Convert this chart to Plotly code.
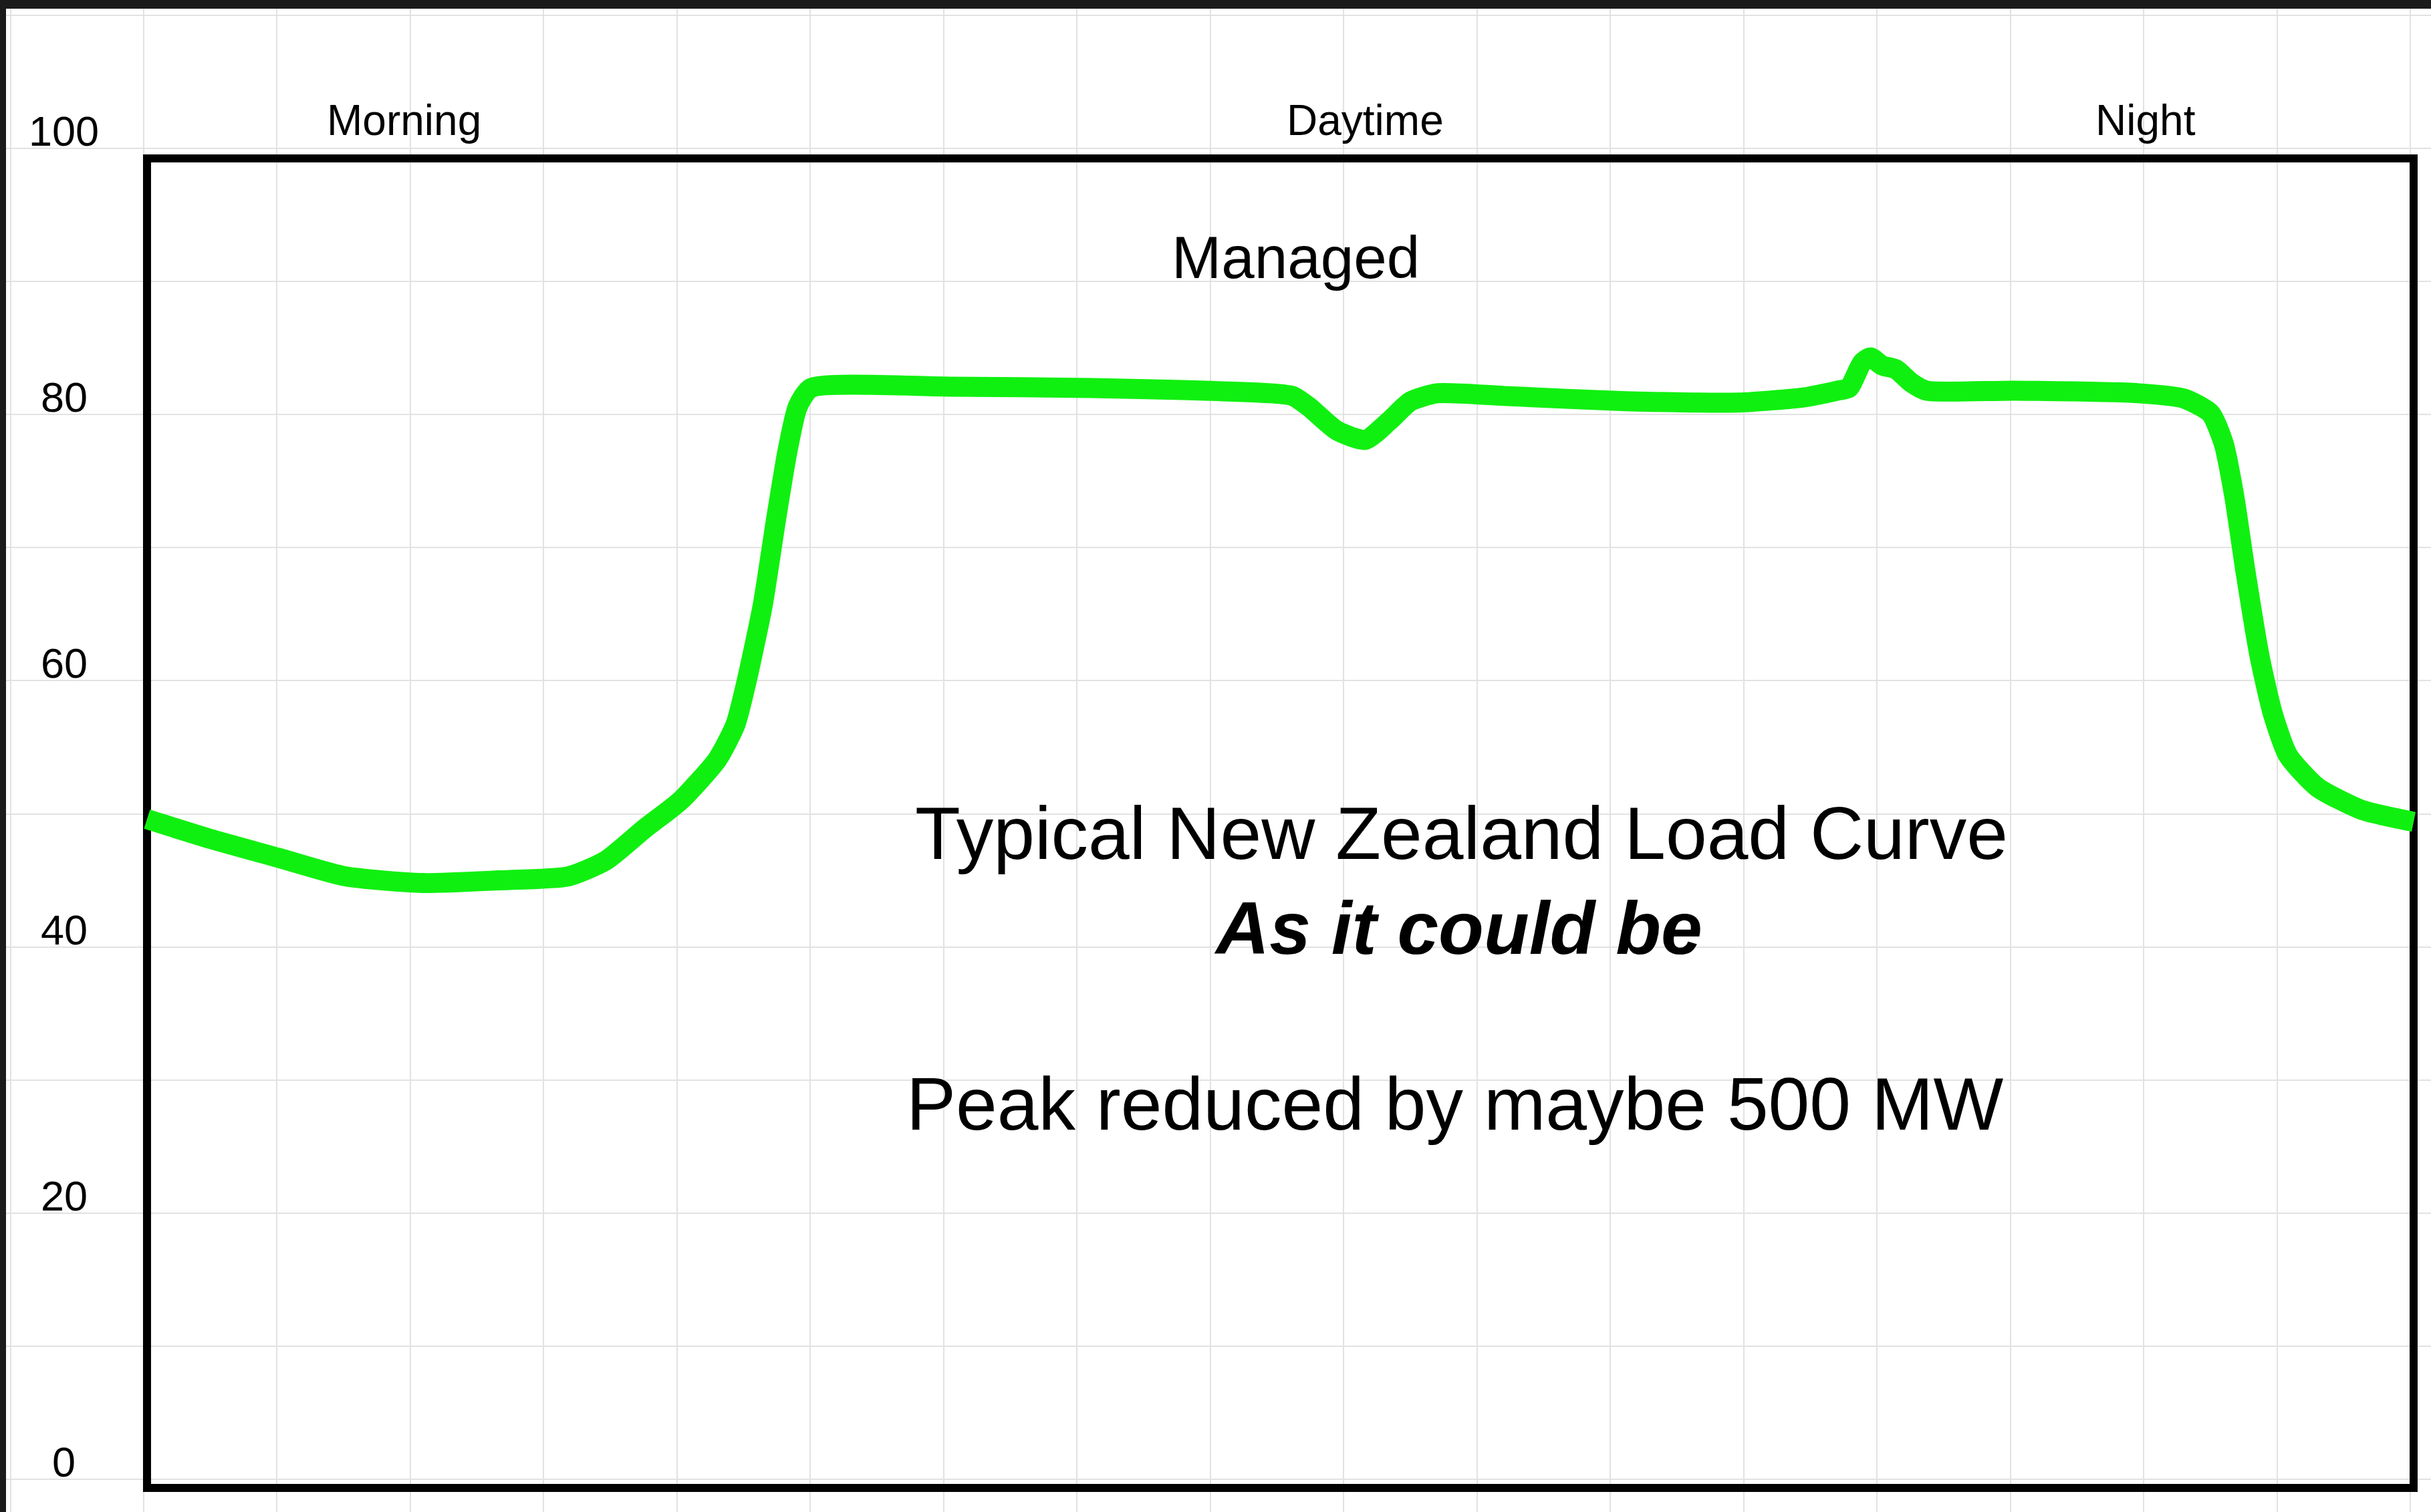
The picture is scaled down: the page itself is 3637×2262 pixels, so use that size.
import plotly.graph_objects as go

# ---- data ----
hours = [0.0, 0.68, 1.39, 2.1, 2.92, 3.72, 4.46, 4.86, 5.27, 5.65, 6.04, 6.23, 6.35,
         6.52, 6.66, 6.78, 6.89, 7.03, 8.5, 10.0, 11.2, 11.9, 12.13, 12.30, 12.6,
         12.9, 13.15, 13.38, 13.66, 14.37, 15.66, 16.85, 17.55, 17.9, 18.02, 18.16,
         18.25, 18.37, 18.52, 18.68, 18.84, 19.77, 21.09, 21.57, 21.85, 21.99, 22.1,
         22.22, 22.37, 22.51, 22.67, 22.98, 23.45, 24.0]
load = [49.6, 48.1, 46.7, 45.3, 44.8, 45.0, 45.3, 46.5, 48.9, 51.0, 54.1, 56.7, 60.0,
        65.7, 72.1, 77.2, 80.6, 82.0, 82.1, 82.0, 81.8, 81.6, 81.4, 80.6, 78.8,
        78.1, 79.5, 81.0, 81.6, 81.4, 81.0, 80.9, 81.3, 81.8, 82.0, 83.9,
        84.3, 83.7, 83.4, 82.4, 81.8, 81.8, 81.6, 81.2, 80.1, 77.8, 73.9,
        68.2, 61.8, 57.5, 54.4, 52.0, 50.3, 49.4]

y_tick_values = [0, 20, 40, 60, 80, 100]
y_tick_labels = ["0", "20", "40", "60", "80", "100"]

period_labels = ["Morning", "Daytime", "Night"]
period_hours = [2.72, 12.9, 21.16]

series_label = "Managed"
title_line1 = "Typical New Zealand Load Curve"
title_line2 = "As it could be"
note_text = "Peak reduced by maybe 500 MW"

# ---- figure ----
W, H = 3637, 2262
FONT = "Liberation Sans, Arial, Helvetica, sans-serif"
GREEN = "#10f010"

fig = go.Figure()
fig.add_trace(go.Scatter(
    x=hours, y=load, mode="lines",
    line=dict(color=GREEN, width=30, shape="spline", smoothing=0.6),
    hoverinfo="skip", showlegend=False,
))

# frame around the chart area
fig.add_shape(type="rect", xref="x", yref="y", x0=0, x1=24, y0=-0.65, y1=99.25,
              line=dict(color="black", width=12), fillcolor="rgba(0,0,0,0)",
              layer="between")

annotations = []
for v, t in zip(y_tick_values, y_tick_labels):
    annotations.append(dict(x=-0.88, y=v, text=t, showarrow=False, yshift=26,
                            xanchor="center", yanchor="middle",
                            font=dict(family=FONT, size=63, color="black")))
for h, t in zip(period_hours, period_labels):
    annotations.append(dict(x=h, y=102.1, text=t, showarrow=False,
                            xanchor="center", yanchor="middle",
                            font=dict(family=FONT, size=64, color="black")))
annotations.append(dict(x=12.16, y=91.8, text=series_label, showarrow=False,
                        xanchor="center", yanchor="middle",
                        font=dict(family=FONT, size=89, color="black")))
annotations.append(dict(x=13.92, y=48.5, text=title_line1, showarrow=False,
                        xanchor="center", yanchor="middle",
                        font=dict(family=FONT, size=111, color="black")))
annotations.append(dict(x=13.88, y=41.4, text="<b><i>" + title_line2 + "</i></b>",
                        showarrow=False, xanchor="center", yanchor="middle",
                        font=dict(family=FONT, size=111, color="black")))
annotations.append(dict(x=13.85, y=28.2, text=note_text, showarrow=False,
                        xanchor="center", yanchor="middle",
                        font=dict(family=FONT, size=111, color="black")))

fig.update_layout(
    width=W, height=H, autosize=False,
    margin=dict(l=9, r=0, t=13, b=0, pad=0),
    paper_bgcolor="#1b1b1c", plot_bgcolor="white",
    showlegend=False,
    annotations=annotations,
    xaxis=dict(range=[-1.493, 24.184], tick0=-0.035, dtick=24 / 17,
               showgrid=True, gridcolor="#e2e2e2", gridwidth=2,
               zeroline=False, showticklabels=False, ticks="", showline=False,
               fixedrange=True),
    yaxis=dict(range=[-2.46, 110.5], tick0=0, dtick=10,
               showgrid=True, gridcolor="#e2e2e2", gridwidth=2,
               zeroline=False, showticklabels=False, ticks="", showline=False,
               fixedrange=True),
)

fig.write_html("out.html", config={"displayModeBar": False},
               post_script="document.body.style.margin='0';document.body.style.overflow='hidden';")
